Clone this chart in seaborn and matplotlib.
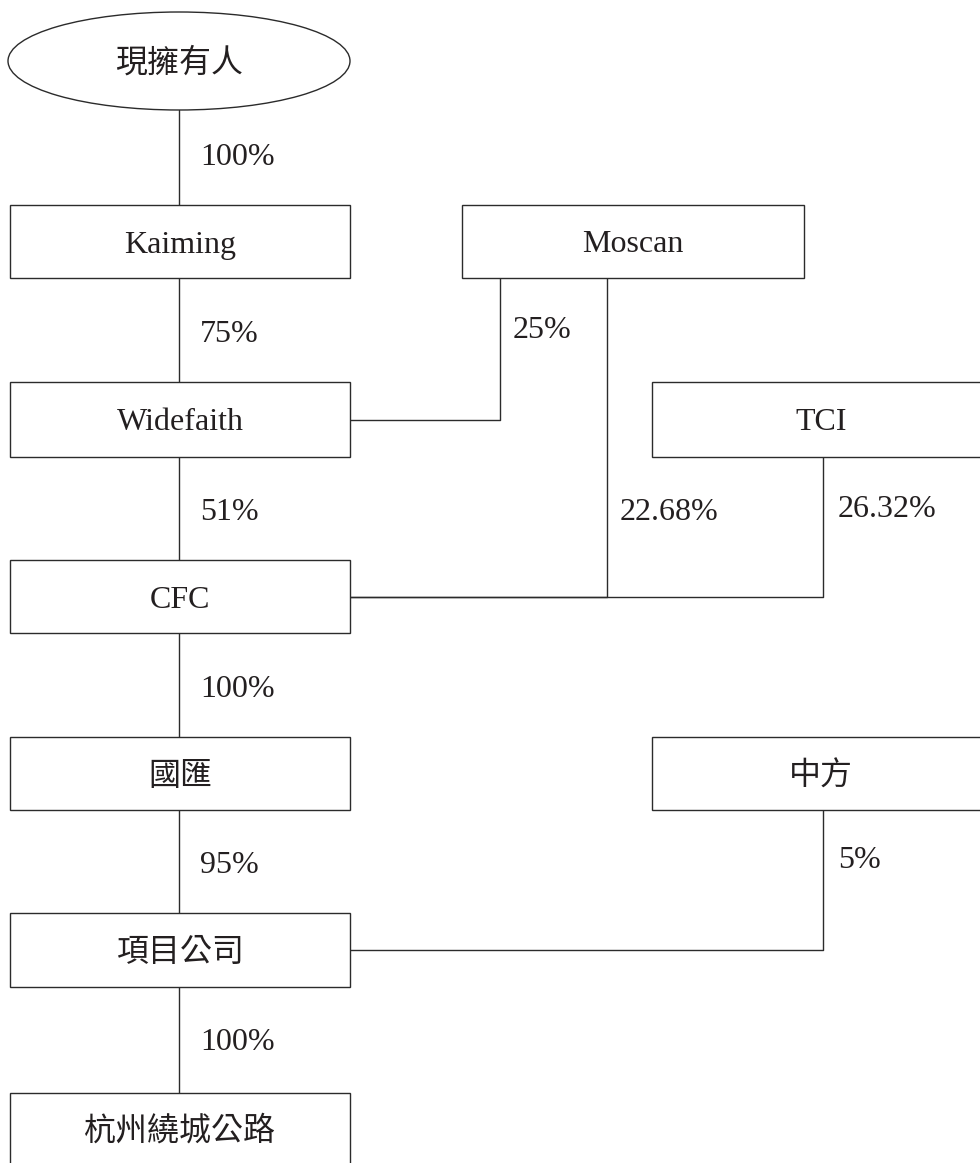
import matplotlib
matplotlib.use("Agg")
import matplotlib.pyplot as plt
from matplotlib.patches import Rectangle, Ellipse
import seaborn as sns
import pandas as pd

sns.set_theme(style="white")
plt.rcParams['font.family'] = ['Liberation Serif', 'Noto Sans CJK TC', 'DejaVu Sans']

# ---- data ----
owner = "現擁有人"
chain = ["Kaiming", "Widefaith", "CFC", "國匯", "項目公司", "杭州繞城公路"]
main_chain_pct = ["100%", "75%", "51%", "100%", "95%", "100%"]
side_owners = ["Moscan", "Moscan", "TCI", "中方"]
side_targets = ["Widefaith", "CFC", "CFC", "項目公司"]
side_pct = ["25%", "22.68%", "26.32%", "5%"]

# ---- layout (pixels) ----
W, H = 980, 1163
box_pos = {  # x0, y0, x1, y1
    "Kaiming": (10, 205, 350, 278),
    "Widefaith": (10, 382, 350, 457),
    "CFC": (10, 560, 350, 633),
    "國匯": (10, 737, 350, 810),
    "項目公司": (10, 913, 350, 987),
    "杭州繞城公路": (10, 1093, 350, 1175),
    "Moscan": (462, 205, 804, 278),
    "TCI": (652, 382, 990, 457),
    "中方": (652, 737, 990, 810),
}
ellipse = (179, 61, 342, 98)
main_x = 179
main_label_base = [165, 342, 520, 697, 873, 1050]
side_x = [500, 607, 823, 823]
side_join_y = [420, 597, 597, 950]
side_label_xy = [(513, 338), (620, 520), (838, 517), (838, 868)]
text_base_box = {"杭州繞城公路": 1140}

fig = plt.figure(figsize=(W / 100, H / 100), dpi=100)
ax = fig.add_axes([0, 0, 1, 1])

lc = "#2b2b2b"
tc = "#231f20"
lw = 1.0
fs = 23

# edges
rows = []
full_chain = [owner] + chain
for i in range(len(full_chain) - 1):
    y0 = ellipse[1] + ellipse[3] / 2 if i == 0 else box_pos[full_chain[i]][3]
    y1 = box_pos[full_chain[i + 1]][1]
    rows += [dict(edge=f"m{i}", x=main_x, y=y0), dict(edge=f"m{i}", x=main_x, y=y1)]
for j, (own, tgt) in enumerate(zip(side_owners, side_targets)):
    y0 = box_pos[own][3]
    rows += [dict(edge=f"s{j}", x=side_x[j], y=y0),
             dict(edge=f"s{j}", x=side_x[j], y=side_join_y[j]),
             dict(edge=f"s{j}", x=box_pos[tgt][2], y=side_join_y[j])]
df = pd.DataFrame(rows)
sns.lineplot(data=df, x="x", y="y", units="edge", estimator=None, sort=False,
             color=lc, linewidth=lw, ax=ax, legend=False)
ax.set_xlim(0, W)
ax.set_ylim(H, 0)
ax.axis("off")

# boxes
for name, (x0, y0, x1, y1) in box_pos.items():
    ax.add_patch(Rectangle((x0, y0), x1 - x0, y1 - y0, fill=True, facecolor="white",
                           edgecolor=lc, linewidth=lw, zorder=3))
    base = text_base_box.get(name, (y0 + y1) / 2 + 11)
    ax.text((x0 + x1) / 2, base, name, ha="center", va="baseline",
            fontsize=fs, color=tc, zorder=4)
cx, cy, ew, eh = ellipse
ax.add_patch(Ellipse((cx, cy), ew, eh, facecolor="white", edgecolor=lc, linewidth=lw, zorder=3))
ax.text(cx, cy + 11, owner, ha="center", va="baseline", fontsize=fs, color=tc, zorder=4)

# labels
for pct, y in zip(main_chain_pct, main_label_base):
    ax.text(main_x + 21, y, pct, ha="left", va="baseline", fontsize=fs, color=tc)
for pct, (x, y) in zip(side_pct, side_label_xy):
    ax.text(x, y, pct, ha="left", va="baseline", fontsize=fs, color=tc)

fig.savefig("out.png", dpi=100)
